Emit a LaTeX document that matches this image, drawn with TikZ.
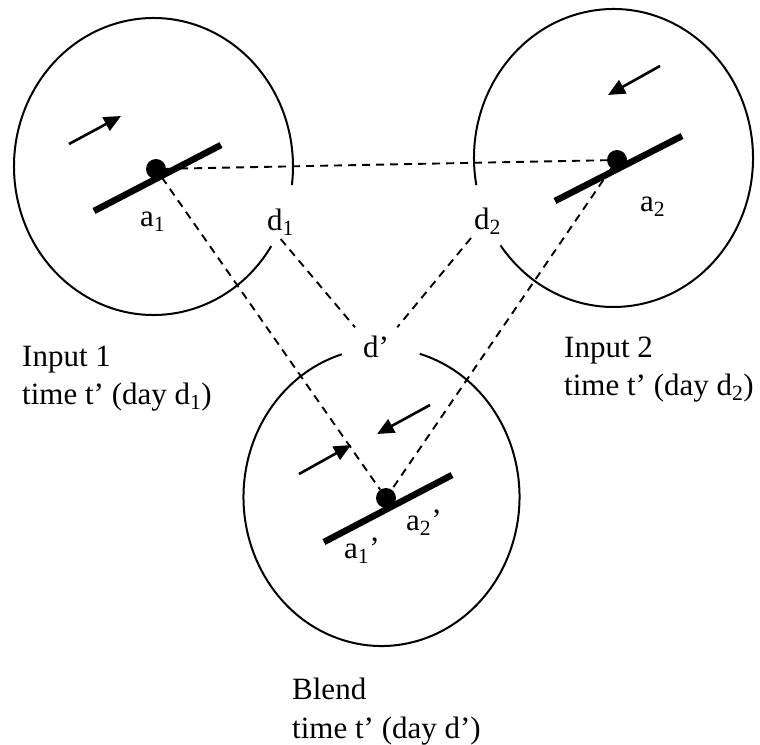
\documentclass[tikz,border=0pt]{standalone}
\usepackage{fontspec}
\setmainfont{Liberation Serif}
\usetikzlibrary{arrows.meta}
\begin{document}
\begin{tikzpicture}[x=1pt,y=-1pt,
  outline/.style={line width=2pt},
  dashline/.style={line width=1.9pt, dash pattern=on 8pt off 6pt},
  barline/.style={line width=6.5pt},
  dotnode/.style={circle, fill=black, minimum size=20pt, inner sep=0pt},
  motion/.style={line width=2.6pt, -{Triangle[length=17pt,width=15pt]}},
  lbl/.style={font=\fontsize{31}{39}\selectfont, anchor=base west, inner sep=0pt},
]
\useasboundingbox (0,0) rectangle (760,744);

% space outlines (ellipses with gaps)
\coordinate (c1) at (153.5,166.5);
\coordinate (c2) at (613.5,158);
\coordinate (c3) at (381.5,497);
\draw[outline] (c1) ++(32.4:139.5 and 148.5)
  arc[start angle=32.4, end angle=367.2, x radius=139.5, y radius=148.5];
\draw[outline] (c2) ++(169.5:139.5 and 149)
  arc[start angle=169.5, end angle=504.1, x radius=139.5, y radius=149];
\draw[outline] (c3) ++(286.1:138 and 149)
  arc[start angle=286.1, end angle=613.3, x radius=138, y radius=149];

% bars
\draw[barline] (94,211) -- (221,145);
\draw[barline] (555,201) -- (682,136);
\draw[barline] (324,542) -- (452,475);

% dots
\node[dotnode] (dot1) at (156,169) {};
\node[dotnode] (dot2) at (617,160) {};
\node[dotnode] (dot3) at (386,498) {};

% labels
\node[lbl] (a1) at (140,226) {a\textsubscript{1}};
\node[lbl] (a2) at (640,211) {a\textsubscript{2}};
\node[lbl] (a1p) at (344,558) {a\textsubscript{1}’};
\node[lbl] (a2p) at (406,530) {a\textsubscript{2}’};
\node[lbl, inner sep=3pt] (d1) at (264,230) {d\textsubscript{1}};
\node[lbl, inner sep=3pt] (d2) at (471,229) {d\textsubscript{2}};
\node[lbl, inner sep=8pt] (dp) at (355,357) {d’};

% dashed connectors
\draw[dashline] (dot1) -- (dot2);
\draw[dashline] (dot1) -- (dot3);
\draw[dashline] (dot2) -- (dot3);
\draw[dashline] (d1.south) -- (dp.north west);
\draw[dashline] (d2.south west) -- (dp.north east);

% motion arrows
\draw[motion] (69,144) -- (121,116);
\draw[motion] (660,66) -- (608,95);
\draw[motion] (299,474) -- (351,445);
\draw[motion] (430,405) -- (377,434);

% captions
\node[lbl] (in1a) at (22,366) {Input 1};
\node[lbl] (in1b) at (22,404) {time t’ (day d\textsubscript{1})};
\node[lbl] (in2a) at (564,357) {Input 2};
\node[lbl] (in2b) at (564,395) {time t’ (day d\textsubscript{2})};
\node[lbl] (bla) at (292,699) {Blend};
\node[lbl] (blb) at (292,738) {time t’ (day d’)};
\end{tikzpicture}
\end{document}
